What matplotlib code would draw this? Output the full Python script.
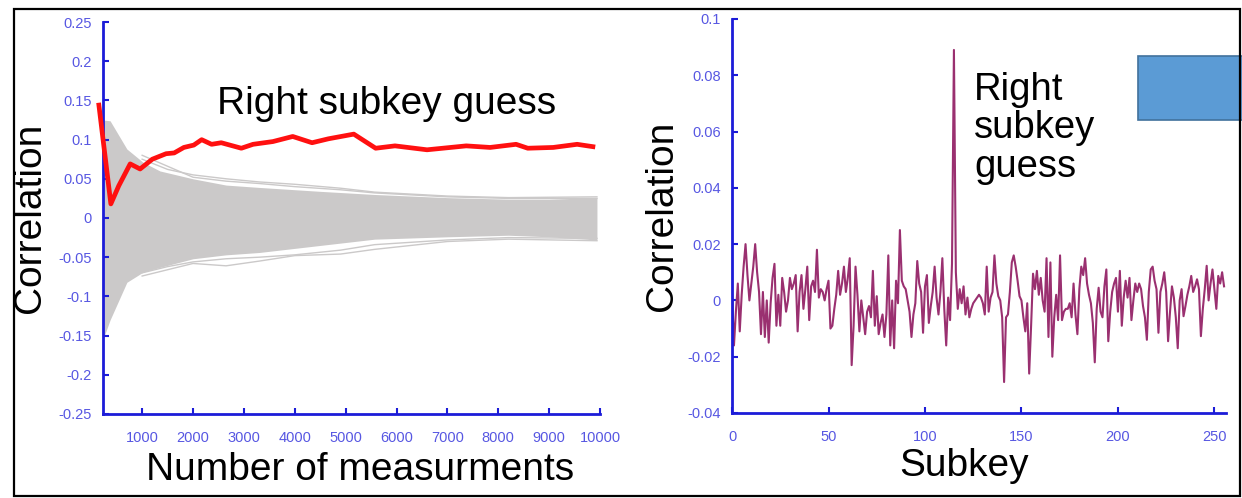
import numpy as np
import matplotlib.pyplot as plt
from matplotlib.patches import Rectangle

plt.rcParams['font.family'] = ['Liberation Sans', 'DejaVu Sans']

# correct key: correlation vs number of measurements
right_n = [150, 385, 540, 765, 960, 1200, 1470, 1630, 1820, 2015, 2170, 2365, 2555, 2950,
           3180, 3570, 3960, 4340, 4660, 5160, 5590, 5970, 6600, 7370, 7840, 8350, 8580,
           9080, 9550, 9860]
right_corr = [0.144, 0.018, 0.041, 0.069, 0.0625, 0.075, 0.082, 0.083, 0.090, 0.093, 0.0999,
              0.094, 0.096, 0.089, 0.094, 0.0975, 0.104, 0.096, 0.101, 0.107, 0.089, 0.092,
              0.087, 0.092, 0.090, 0.094, 0.089, 0.090, 0.094, 0.091]

# envelope of the wrong key guesses
band_n = [230, 370, 700, 1020, 1350, 2000, 2650, 3300, 4500, 5570, 7000, 8200, 9000, 9940]
band_hi = [0.125, 0.124, 0.088, 0.071, 0.060, 0.050, 0.042, 0.039, 0.034, 0.030, 0.026,
           0.024, 0.024, 0.026]
band_lo = [-0.155, -0.13, -0.082, -0.069, -0.063, -0.052, -0.047, -0.044, -0.035, -0.027,
           -0.024, -0.022, -0.024, -0.028]

# a few wrong guesses that stick out of the band
stray_n = [1000, 1500, 2000, 2650, 3300, 4000, 4900, 5570, 7000, 8200, 9940]
stray_hi1 = [0.075, 0.062, 0.055, 0.050, 0.046, 0.043, 0.038, 0.033, 0.028, 0.026, 0.027]
stray_hi2 = [0.080, 0.066, 0.052, 0.047, 0.044, 0.040, 0.036, 0.032, 0.027, 0.025, 0.025]
stray_lo1 = [-0.074, -0.066, -0.058, -0.061, -0.055, -0.048, -0.046, -0.040, -0.030, -0.027, -0.029]
stray_lo2 = [-0.070, -0.062, -0.056, -0.052, -0.050, -0.047, -0.041, -0.034, -0.028, -0.025, -0.026]

# correlation of every subkey guess after all measurements
corr = [
    0.002, -0.016, -0.004, 0.006, -0.011, 0.002, 0.012, 0.020, 0.009, 0.000,
    0.006, 0.012, 0.020, 0.010, 0.003, -0.012, 0.003, -0.013, 0.000, -0.015,
    -0.001, 0.008, 0.013, -0.009, 0.002, -0.009, 0.008, 0.003, -0.004, 0.000,
    0.008, 0.004, 0.006, 0.009, -0.011, 0.003, 0.009, -0.003, 0.004, 0.012,
    -0.007, 0.005, 0.007, 0.003, 0.018, 0.001, 0.004, 0.003, 0.000, 0.004,
    0.007, -0.010, -0.009, -0.003, 0.002, 0.0105, 0.002, 0.006, 0.012, 0.003,
    0.008, 0.015, -0.023, -0.009, 0.012, 0.002, -0.011, 0.000, -0.006, -0.012,
    -0.004, -0.002, -0.006, 0.0105, -0.009, 0.0015, -0.012, -0.008, -0.005, -0.013,
    -0.005, 0.016, -0.016, 0.000, -0.017, 0.007, -0.001, 0.025, 0.007, 0.005,
    0.004, 0.000, -0.004, -0.013, -0.005, -0.001, 0.014, 0.006, 0.003, -0.0115,
    0.005, 0.009, -0.008, -0.002, 0.003, 0.012, 0.001, -0.005, 0.003, 0.015,
    -0.003, -0.016, 0.001, -0.007, 0.013, 0.089, 0.010, -0.003, 0.004, -0.001,
    0.005, -0.005, 0.001, -0.006, -0.003, -0.001, 0.000, 0.001, 0.002, 0.001,
    -0.001, -0.005, 0.012, -0.004, 0.001, 0.003, 0.016, 0.006, 0.0015, 0.000,
    -0.006, -0.029, -0.006, -0.005, 0.003, 0.0135, 0.016, 0.012, 0.007, 0.0015,
    0.000, -0.006, -0.011, -0.001, -0.026, -0.009, 0.0095, 0.004, 0.0105, 0.002,
    0.008, 0.000, -0.004, 0.015, -0.013, 0.0135, -0.020, -0.006, 0.002, -0.007,
    0.016, -0.007, -0.004, -0.003, -0.003, -0.001, -0.006, 0.006, -0.005, -0.012,
    0.004, 0.012, 0.009, 0.015, 0.006, 0.002, -0.001, -0.008, -0.022, -0.003,
    0.0045, -0.004, -0.006, 0.005, 0.011, -0.0145, -0.004, 0.003, 0.006, 0.008,
    -0.004, 0.0105, -0.009, 0.001, 0.007, 0.001, 0.008, -0.007, 0.000, 0.006,
    0.003, 0.006, 0.004, -0.002, -0.006, -0.014, 0.003, 0.011, 0.012, 0.007,
    0.004, -0.0115, 0.003, 0.006, 0.010, 0.003, -0.0145, -0.004, 0.005, 0.001,
    -0.006, -0.017, 0.000, 0.004, -0.0056, -0.002, 0.002, 0.005, 0.0087, 0.003,
    0.005, 0.0075, 0.004, -0.0127, -0.003, 0.004, 0.0123, 0.000, 0.006, 0.011,
    0.004, -0.003, 0.0087, 0.006, 0.010, 0.005,
]
subkey = np.arange(len(corr))

left_yticks = [-0.25, -0.2, -0.15, -0.1, -0.05, 0, 0.05, 0.1, 0.15, 0.2, 0.25]
left_ylabels = ['-0.25', '-0.2', '-0.15', '-0.1', '-0.05', '0', '0.05', '0.1', '0.15', '0.2', '0.25']
left_xticks = [1000, 2000, 3000, 4000, 5000, 6000, 7000, 8000, 9000, 10000]
right_yticks = [-0.04, -0.02, 0, 0.02, 0.04, 0.06, 0.08, 0.1]
right_ylabels = ['-0.04', '-0.02', '0', '0.02', '0.04', '0.06', '0.08', '0.1']
right_xticks = [0, 50, 100, 150, 200, 250]

axis_blue = '#1c1cd8'
tick_blue = '#5757e2'
grey = '#cbc9c9'

fig = plt.figure(figsize=(12.42, 4.98), dpi=100)
ax1 = fig.add_axes([0.0829, 0.1687, 0.4002, 0.7871])
ax2 = fig.add_axes([0.5894, 0.1707, 0.3977, 0.7912])

# left: evolution with number of measurements
ax1.fill_between(band_n, band_lo, band_hi, color=grey, lw=0)
for s in [stray_hi1, stray_hi2, stray_lo1, stray_lo2]:
    ax1.plot(stray_n, s, color=grey, lw=1)
ax1.plot(right_n, right_corr, color='#ff1010', lw=3.4, clip_on=False, zorder=5)
ax1.set_xlim(230, 10000)
ax1.set_ylim(-0.25, 0.25)
ax1.set_yticks(left_yticks)
ax1.set_yticklabels(left_ylabels)
ax1.set_xticks(left_xticks)
ax1.set_xlabel('Number of measurments', fontsize=28)
ax1.set_ylabel('Correlation', fontsize=28)
ax1.xaxis.set_label_coords(0.517, -0.097)
ax1.yaxis.set_label_coords(-0.11, 0.5)
ax1.text(0.229, 0.79, 'Right subkey guess', transform=ax1.transAxes, fontsize=28,
         va='center', ha='left')

# right: correlation per subkey
ax2.plot(subkey, corr, color='#9a3070', lw=1.5)
ax2.set_xlim(0, 256)
ax2.set_ylim(-0.04, 0.1)
ax2.set_yticks(right_yticks)
ax2.set_yticklabels(right_ylabels)
ax2.set_xticks(right_xticks)
ax2.set_xlabel('Subkey', fontsize=28)
ax2.set_ylabel('Correlation', fontsize=28)
ax2.xaxis.set_label_coords(0.47, -0.09)
ax2.yaxis.set_label_coords(-0.105, 0.5)
ax2.text(0.49, 0.865, 'Right\nsubkey\nguess', transform=ax2.transAxes, fontsize=27.5,
         va='top', ha='left', linespacing=1.08)

for ax in [ax1, ax2]:
    for side in ['top', 'right']:
        ax.spines[side].set_visible(False)
    for side in ['left', 'bottom']:
        ax.spines[side].set_color(axis_blue)
        ax.spines[side].set_linewidth(2)
    ax.tick_params(direction='in', length=4, width=1.5, color=axis_blue,
                   labelcolor=tick_blue, labelsize=10.5)
    ax.tick_params(axis='x', pad=12)
    ax.tick_params(axis='y', pad=8)

# blue box at the top right and the outer frame
fig.patches.append(Rectangle((0.916, 0.759), 0.1, 0.1285, transform=fig.transFigure,
                             facecolor='#5b9bd5', edgecolor='#41719c', lw=1.2))
fig.patches.append(Rectangle((0.0113, 0.004), 0.9871, 0.978, transform=fig.transFigure,
                             fill=False, edgecolor='black', lw=1.6))

fig.savefig('out.png', dpi=100)
